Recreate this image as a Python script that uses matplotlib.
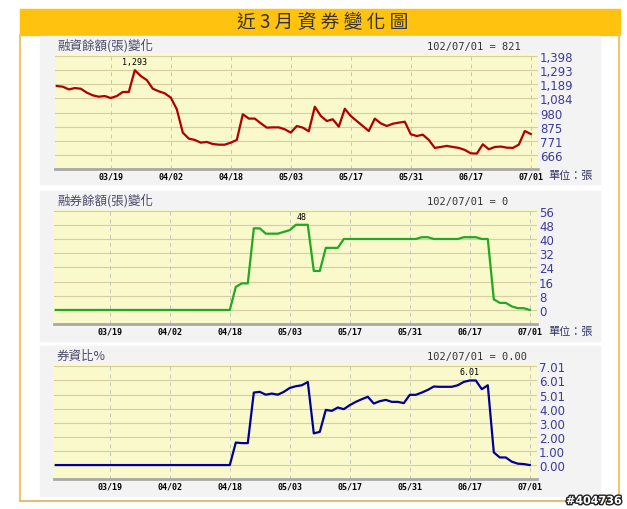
import numpy as np
import matplotlib.pyplot as plt
import matplotlib.patheffects as pe
from matplotlib.patches import Rectangle

plt.rcParams['font.family'] = ['Noto Sans CJK TC', 'DejaVu Sans']

date_labels = ['03/19', '04/02', '04/18', '05/03', '05/17', '05/31', '06/17', '07/01']
date_pos = [9, 19, 29, 39, 49, 59, 69, 79]

# 融資餘額(張)
margin = [1176, 1171, 1151, 1161, 1156, 1127, 1107, 1097, 1102, 1087,
          1102, 1132, 1132, 1293, 1250, 1220, 1156, 1137, 1122, 1090,
          1004, 831, 787, 777, 757, 762, 747, 742, 742, 757,
          777, 967, 935, 935, 900, 868, 870, 870, 856, 831,
          880, 868, 841, 1023, 955, 917, 930, 875, 1008, 954,
          917, 880, 843, 935, 900, 880, 897, 905, 912, 819,
          806, 816, 777, 718, 725, 733, 725, 718, 703, 678,
          676, 745, 708, 725, 728, 720, 718, 742, 843, 821]

# 融券餘額(張)
short = [0] * 30 + [13, 15, 15, 46, 46, 43, 43, 43, 44, 45,
                    48, 48, 48, 22, 22, 35, 35, 35, 40, 40,
                    40, 40, 40, 40, 40, 40, 40, 40, 40, 40,
                    40, 41, 41, 40, 40, 40, 40, 40, 41, 41,
                    41, 40, 40, 6, 4, 4, 2, 1, 1, 0]

# 券資比%
ratio = [0] * 30 + [1.6, 1.56, 1.56, 5.15, 5.2, 5.0, 5.08, 5.0, 5.2, 5.48,
                    5.6, 5.67, 5.9, 2.25, 2.36, 3.92, 3.85, 4.09, 3.97, 4.26,
                    4.49, 4.68, 4.85, 4.37, 4.54, 4.63, 4.49, 4.49, 4.40, 4.99,
                    4.99, 5.15, 5.34, 5.58, 5.56, 5.56, 5.56, 5.67, 5.91, 6.01,
                    6.01, 5.39, 5.67, 0.9, 0.54, 0.54, 0.24, 0.1, 0.07, 0.0]

margin_ticks = [666, 771, 875, 980, 1084, 1189, 1293, 1398]
margin_tlabels = ['666', '771', '875', '980', '1,084', '1,189', '1,293', '1,398']
short_ticks = [0, 8, 16, 24, 32, 40, 48, 56]
ratio_ticks = [0, 1.0014, 2.0029, 3.0043, 4.0057, 5.0071, 6.0086, 7.01]
ratio_tlabels = ['0.00', '1.00', '2.00', '3.00', '4.00', '5.01', '6.01', '7.01']

W, H = 627, 510
fig = plt.figure(figsize=(W / 100, H / 100), dpi=100)

# fondo: barra de titulo, marco y paneles grises
bg = fig.add_axes([0, 0, 1, 1], zorder=0)
bg.set_xlim(0, W)
bg.set_ylim(H, 0)
bg.axis('off')
bg.add_patch(Rectangle((20, 10), 600, 26, color='#FFC20E'))
bg.plot([20, 20], [36, 502], color='#EDC670', lw=1.5)
bg.plot([619, 619], [36, 502], color='#EDC670', lw=1.5)
bg.plot([20, 619], [502, 502], color='#E3BE78', lw=1.5)
for y0, h in [(37, 148), (192, 150), (347, 150)]:
    bg.add_patch(Rectangle((40, y0), 560, h, color='#F3F3F3'))
bg.text(323, 23, '近 3 月 資 券 變 化 圖', fontsize=13.5, color='#333333',
        ha='center', va='center')
bg.text(622, 502, '#404736', fontsize=8, fontweight='bold', color='white',
        ha='right', va='center', family='DejaVu Sans',
        path_effects=[pe.withStroke(linewidth=2, foreground='#222222')])


def panel(rect, x, y, color, ticks, tlabels, ylim, title, info, peak_i, peak_txt, unit_y):
    ax = fig.add_axes([rect[0] / W, 1 - rect[1] / H, rect[2] / W, rect[3] / H], zorder=2)
    ax.set_facecolor('#F9F9CB')
    ax.set_xlim(-0.3, 80.2)
    ax.set_ylim(*ylim)
    for s in ['top', 'left', 'right']:
        ax.spines[s].set_visible(False)
    ax.spines['bottom'].set_color('#A8A8A8')
    ax.spines['bottom'].set_linewidth(2)
    ax.set_yticks(ticks)
    ax.set_yticklabels(tlabels)
    ax.yaxis.tick_right()
    ax.tick_params(axis='y', length=0, pad=1.5, labelsize=8.5, labelcolor='#3B3B9A')
    for lab in ax.get_yticklabels():
        lab.set_family('DejaVu Sans')
    ax.set_xticks(date_pos)
    ax.set_xticklabels(date_labels, family='DejaVu Sans Mono', fontsize=6, fontweight='bold')
    ax.tick_params(axis='x', length=0, pad=2)
    ax.yaxis.grid(True, color='#D6CE9E', lw=0.8)
    for p in date_pos:
        ax.axvline(p, color='#C4C4C4', lw=0.7, ls=(0, (4, 4)))
    ax.set_axisbelow(True)
    ax.plot(x, y, color=color, lw=1.6, zorder=3)
    ax.annotate(peak_txt, (peak_i, y[peak_i]), xytext=(0, 3), textcoords='offset points',
                ha='center', va='bottom', family='DejaVu Sans Mono', fontsize=6)
    bg.text(57, rect[1] - rect[3] - 9, title, fontsize=9, color='#4A4A6A', va='center')
    bg.text(427, rect[1] - rect[3] - 8, info, fontsize=7.5, family='DejaVu Sans Mono',
            color='#333333', va='center')
    if unit_y:
        bg.text(548, unit_y, '單位：張', fontsize=8, color='#333366', va='center')
    return ax


x = np.arange(len(margin))
panel((55, 170, 483, 115), x, margin, '#B00000', margin_ticks, margin_tlabels,
      (562, 1413), '融資餘額(張)變化', '102/07/01 = 821', 13, '1,293', 176)
panel((54, 325, 483, 115), x, short, '#22A822', short_ticks, [str(t) for t in short_ticks],
      (-7.9, 56.9), '融券餘額(張)變化', '102/07/01 = 0', 41, '48', 332)
panel((54, 480, 483, 115), x, ratio, '#000099', ratio_ticks, ratio_tlabels,
      (-0.99, 7.18), '券資比%', '102/07/01 = 0.00', 69, '6.01', None)

fig.savefig('out.png', dpi=100)
